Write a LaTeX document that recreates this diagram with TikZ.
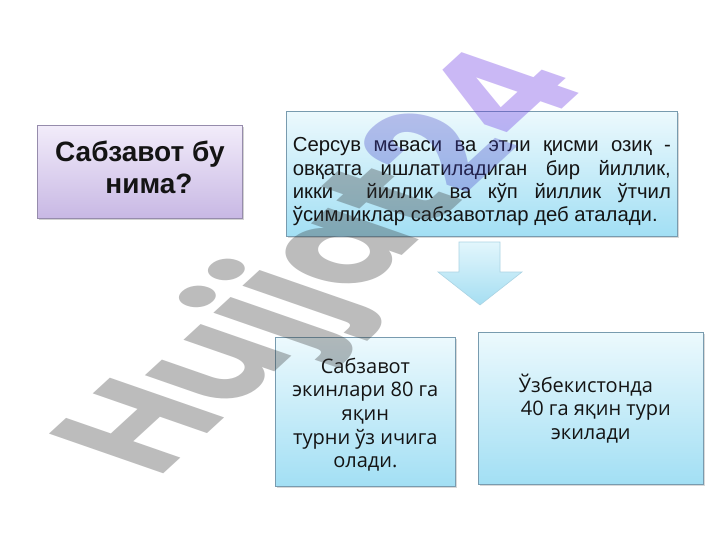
\documentclass[tikz,border=0pt]{standalone}
\usepackage{fontspec}
\setmainfont{Liberation Sans}
\newfontfamily\opensans{Open Sans}
\newfontfamily\wmfont{Poppins}
\usetikzlibrary{shadows}
\definecolor{lavtop}{RGB}{242,236,250}
\definecolor{lavbot}{RGB}{200,184,228}
\definecolor{lavline}{RGB}{150,140,172}
\definecolor{cyantop}{RGB}{236,249,253}
\definecolor{cyanbot}{RGB}{162,223,244}
\definecolor{cyanline}{RGB}{120,155,175}
\definecolor{arrtop}{RGB}{226,246,252}
\definecolor{arrbot}{RGB}{165,222,242}
\definecolor{arrline}{RGB}{172,212,228}
\definecolor{wmgray}{RGB}{52,52,52}
\definecolor{wmmid}{RGB}{70,70,200}
\definecolor{wmpurple}{RGB}{97,40,225}
\definecolor{txt}{RGB}{20,20,20}
\tikzset{
  lavbox/.style={draw=lavline, line width=0.8pt, top color=lavtop, bottom color=lavbot,
    drop shadow={shadow xshift=1.5pt, shadow yshift=-1.5pt, opacity=0.35}},
  cyanbox/.style={draw=cyanline, line width=0.7pt, top color=cyantop, bottom color=cyanbot,
    drop shadow={shadow xshift=1.2pt, shadow yshift=-1.5pt, opacity=0.3}},
  blockarrow/.style={draw=arrline, line width=0.6pt, top color=arrtop, bottom color=arrbot},
  watermark/.style={font=\wmfont\fontsize{108}{108}\selectfont\bfseries, text opacity=0.33, inner sep=0pt}
}
\begin{document}
\begin{tikzpicture}[x=1pt,y=-1pt]
\useasboundingbox (0,0) rectangle (720,540);
\fill[white] (0,0) rectangle (720,540);

\node[lavbox, anchor=north west, minimum width=205pt, minimum height=93pt,
      align=center, text=txt, text depth=9pt, font=\fontsize{28}{32}\selectfont\bfseries] (q) at (37,125)
  {Сабзавот бу\\\hspace*{0.65em}нима?};

\node[cyanbox, anchor=north west, minimum width=391pt, minimum height=125pt,
      inner xsep=6.5pt, text width=378pt, align=justify, text=txt,
      font=\fontsize{20.3}{23.4}\selectfont] (def) at (286,111)
  {\rule{0pt}{30pt}Серсув меваси ва этли қисми озиқ -\linebreak
   овқатга ишлатиладиган бир йиллик,\linebreak
   икки \ йиллик ва кўп йиллик ўтчил\linebreak
   ўсимликлар сабзавотлар деб аталади.};

\path[blockarrow] (459,242) -- (500,242) -- (500,272) -- (522,272) -- (480,305)
   -- (438,272) -- (459,272) -- cycle;

\node[cyanbox, anchor=north west, minimum width=180pt, minimum height=149pt,
      align=center, text=txt, font=\opensans\fontsize{20}{23.6}\selectfont] (a) at (275,337)
  {\rule{0pt}{21pt}Сабзавот\\экинлари 80 га\\яқин\\турни ўз ичига\\олади.};

\node[cyanbox, anchor=north west, minimum width=225pt, minimum height=152pt,
      align=center, text=txt, font=\opensans\fontsize{20}{23.6}\selectfont] (b) at (478,332)
  {Ўзбекистонда\hspace*{0.5em}\\\hspace*{0.5em}40 га яқин тури\\экилади};

\begin{scope}[shift={(314,260)}, xscale=1.77, rotate=58.4]
  \node[watermark, transform shape, anchor=base] (wm) at (0,40)
    {\textcolor{wmgray}{Hujjat}\textcolor{wmmid}{2}\textcolor{wmpurple}{4}};
\end{scope}
\end{tikzpicture}
\end{document}
